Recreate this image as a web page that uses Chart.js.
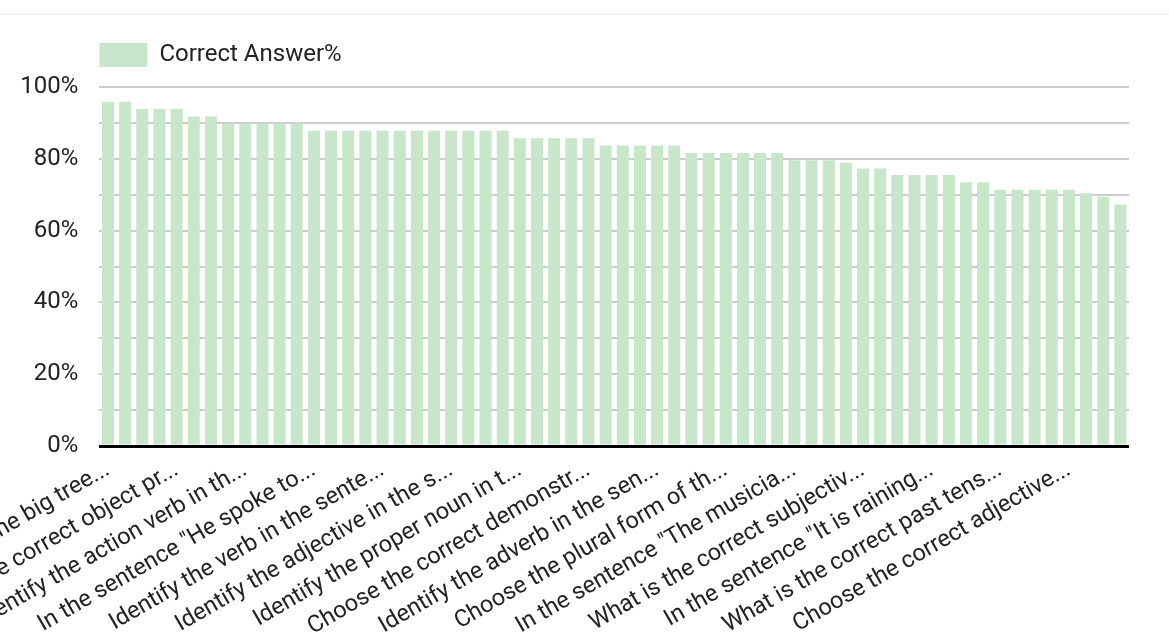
<!DOCTYPE html>
<html>
<head>
<meta charset="utf-8">
<script src="https://cdn.jsdelivr.net/npm/chart.js@4"></script>
<style>
  html, body { margin: 0; padding: 0; background: #fff; }
  #wrap { position: relative; width: 1169px; height: 637px; }
  #topline { position: absolute; left: 0; top: 0; width: 1169px; height: 14px;
             border-bottom: 1px solid #f0f0f0; box-shadow: inset 0 -3px 3px -2px rgba(0,0,0,0.05); }
  canvas { position: absolute; left: 0; top: 0; }
</style>
</head>
<body>
<div id="wrap">
  <canvas id="chart" width="1169" height="637"></canvas>
  <div id="topline"></div>
</div>
<script>
// questions (only every 4th label is readable on the axis)
const categories = [
  'In the sentence "The big tree...', '', '', '',
  'Choose the correct object pr...', '', '', '',
  'Identify the action verb in th...', '', '', '',
  'In the sentence "He spoke to...', '', '', '',
  'Identify the verb in the sente...', '', '', '',
  'Identify the adjective in the s...', '', '', '',
  'Identify the proper noun in t...', '', '', '',
  'Choose the correct demonstr...', '', '', '',
  'Identify the adverb in the sen...', '', '', '',
  'Choose the plural form of th...', '', '', '',
  'In the sentence "The musicia...', '', '', '',
  'What is the correct subjectiv...', '', '', '',
  'In the sentence "It is raining...', '', '', '',
  'What is the correct past tens...', '', '', '',
  'Choose the correct adjective...', '', '', ''
];

// % of correct answers per question
const correctPct = [
  95.9, 95.9, 93.9, 93.9, 93.9, 91.8, 91.8, 89.8, 89.8, 89.8,
  89.8, 89.8, 87.8, 87.8, 87.8, 87.8, 87.8, 87.8, 87.8, 87.8,
  87.8, 87.8, 87.8, 87.8, 85.7, 85.7, 85.7, 85.7, 85.7, 83.7,
  83.7, 83.7, 83.7, 83.7, 81.6, 81.6, 81.6, 81.6, 81.6, 81.6,
  79.6, 79.6, 79.6, 78.9, 77.3, 77.3, 75.5, 75.5, 75.5, 75.5,
  73.5, 73.5, 71.4, 71.4, 71.4, 71.4, 71.4, 70.4, 69.4, 67.3
];

const yTickLabels = ['0%', '20%', '40%', '60%', '80%', '100%'];

Chart.defaults.font.family = 'Roboto, "Noto Sans", sans-serif';
Chart.defaults.color = '#222';

// legend: extra room underneath, and lined up with the plot area
const legendTweak = {
  id: 'legendTweak',
  beforeLayout(chart) {
    const lg = chart.legend;
    if (lg && !lg._tweaked) {
      const fit = lg.fit.bind(lg);
      lg.fit = function () { fit(); this.height += 10; };
      lg._tweaked = true;
    }
  },
  afterLayout(chart) {
    const pad = chart.options.plugins.legend.labels.padding;
    chart.legend.left = chart.chartArea.left - pad;
  }
};

const ctx = document.getElementById('chart').getContext('2d');

new Chart(ctx, {
  type: 'bar',
  data: {
    labels: categories,
    datasets: [{
      label: 'Correct Answer%',
      data: correctPct,
      backgroundColor: '#c8e6c9',
      borderWidth: 0,
      barPercentage: 0.7,
      categoryPercentage: 1.0
    }]
  },
  options: {
    responsive: false,
    animation: false,
    layout: {
      autoPadding: false,
      padding: { top: 14, right: 40, left: 0, bottom: 0 }
    },
    plugins: {
      legend: {
        position: 'top',
        align: 'start',
        labels: {
          boxWidth: 48,
          boxHeight: 24,
          padding: 29,
          font: { size: 24 },
          color: '#222'
        }
      },
      tooltip: { enabled: false }
    },
    scales: {
      x: {
        grid: { display: false },
        border: { display: false },
        afterFit: (s) => {
          s.height = 191;
          s.paddingLeft = 0;   // let the first slanted label run off the left edge
          s.paddingRight = 0;
        },
        ticks: {
          autoSkip: false,
          minRotation: 30,
          maxRotation: 30,
          padding: 2,
          font: { size: 23.5 },
          color: '#222',
          callback: (v, i) => (i % 4 === 0 ? categories[i] : '')
        }
      },
      y: {
        min: 0,
        max: 100,
        border: { display: false },
        afterFit: (s) => { s.width = 99.4; },
        grid: {
          drawTicks: false,
          color: (c) => (c.tick.value === 0 ? '#000' : '#cccccc'),
          lineWidth: (c) => (c.tick.value === 0 ? 3 : 2)
        },
        ticks: {
          stepSize: 10,
          padding: 21,
          font: { size: 24 },
          color: '#222',
          callback: (v) => (v % 20 === 0 ? yTickLabels[v / 20] : '')
        }
      }
    }
  },
  plugins: [legendTweak]
});
</script>
</body>
</html>
